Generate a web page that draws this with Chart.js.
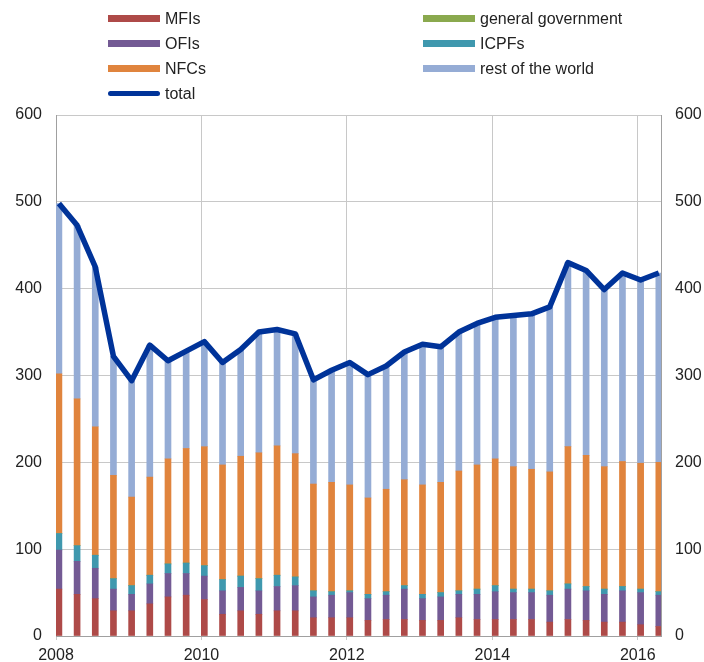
<!DOCTYPE html>
<html>
<head>
<meta charset="utf-8">
<script src="https://cdn.jsdelivr.net/npm/chart.js@4.4.1/dist/chart.umd.min.js"></script>
<style>
  body { margin: 0; background: #fff; }
  #wrap { position: relative; width: 704px; height: 662px; }
  #legend {
    position: absolute; left: 108px; top: 6px;
    display: grid; grid-template-columns: 315px 220px; grid-template-rows: repeat(4, 25px);
    grid-auto-flow: column;
    font: 16px "Liberation Sans", Arial, sans-serif; color: #222;
  }
  .item { display: flex; align-items: center; white-space: nowrap; }
  .swatch { width: 52px; height: 7px; margin-right: 5px; }
  .swatch.line { height: 5px; border-radius: 3px; }
</style>
</head>
<body>
<div id="wrap">
  <canvas id="chart" width="704" height="662"></canvas>
  <div id="legend"></div>
</div>
<script>
const quarters = [
  '2008Q1', '2008Q2', '2008Q3', '2008Q4', '2009Q1', '2009Q2', '2009Q3', '2009Q4',
  '2010Q1', '2010Q2', '2010Q3', '2010Q4', '2011Q1', '2011Q2', '2011Q3', '2011Q4',
  '2012Q1', '2012Q2', '2012Q3', '2012Q4', '2013Q1', '2013Q2', '2013Q3', '2013Q4',
  '2014Q1', '2014Q2', '2014Q3', '2014Q4', '2015Q1', '2015Q2', '2015Q3', '2015Q4',
  '2016Q1', '2016Q2'
];
const yearTicks = [2008, 2010, 2012, 2014, 2016];

const mfis  = [54, 48, 43, 29, 29, 37, 45, 47, 42, 25, 29, 25, 29, 29, 21, 21, 21, 18, 19, 19, 18, 18, 21, 19, 19, 19, 19, 16, 19, 18, 16, 16, 13, 11];
const ofis  = [45, 38, 35, 25, 19, 23, 27, 25, 27, 27, 27, 27, 28, 29, 24, 26, 29, 25, 28, 35, 25, 27, 27, 29, 32, 31, 31, 31, 35, 34, 32, 36, 37, 36];
const icpfs = [19, 18, 15, 12, 10, 10, 11, 12, 12, 13, 13, 14, 13, 10, 7, 4, 2, 5, 4, 4, 5, 5, 4, 6, 7, 4, 4, 5, 6, 5, 6, 5, 4, 4];
const govt  = [0, 0, 0, 0, 0, 0, 0, 0, 0, 0, 0, 0, 0, 0, 0, 0, 0, 0, 0, 0, 0, 0, 0, 0, 0, 0, 0, 0, 0, 0, 0, 0, 0, 0];
const nfcs  = [184, 169, 148, 119, 102, 113, 121, 132, 137, 132, 138, 145, 149, 142, 123, 126, 122, 111, 118, 122, 126, 127, 138, 143, 146, 141, 138, 137, 158, 151, 141, 144, 145, 149];
const row   = [196, 200, 184, 137, 134, 152, 113, 112, 121, 118, 123, 139, 134, 138, 120, 129, 141, 142, 142, 147, 162, 156, 160, 163, 163, 174, 179, 190, 212, 213, 204, 217, 211, 218];
const total = [498, 473, 425, 322, 294, 335, 317, 328, 339, 315, 330, 350, 353, 348, 295, 306, 315, 301, 311, 327, 336, 333, 350, 360, 367, 369, 371, 379, 430, 421, 399, 418, 410, 418];

// bars sit just right of the quarter start
const BAR_SHIFT = 0.04;
const FONT = { family: '"Liberation Sans", Arial, sans-serif', size: 16 };
const GRID = '#c8c8c8';

function xOf(q) {
  return Number(q.slice(0, 4)) + (Number(q[5]) - 1) / 4 + BAR_SHIFT;
}

function points(values) {
  return values.map((v, i) => ({ x: xOf(quarters[i]), y: v }));
}

function bar(label, values, color) {
  return { type: 'bar', label, data: points(values), backgroundColor: color, yAxisID: 'y', order: 1, barThickness: 6 };
}

const datasets = [
  bar('MFIs', mfis, '#ae4a48'),
  bar('OFIs', ofis, '#735a94'),
  bar('ICPFs', icpfs, '#3f98ae'),
  bar('general government', govt, '#8aa94e'),
  bar('NFCs', nfcs, '#e0843d'),
  bar('rest of the world', row, '#95acd5'),
  {
    type: 'line', label: 'total', data: points(total), yAxisID: 'y2', order: 0,
    borderColor: '#003399', borderWidth: 5.5, pointRadius: 0, tension: 0, borderJoinStyle: 'round'
  }
];

new Chart(document.getElementById('chart'), {
  data: { datasets },
  options: {
    responsive: false,
    animation: false,
    layout: { padding: { top: 115, left: 0, right: 0, bottom: 0 } },
    plugins: { legend: { display: false }, tooltip: { enabled: false } },
    scales: {
      x: {
        type: 'linear', min: 2008, max: 2016.32, stacked: true, offset: false,
        afterBuildTicks: s => { s.ticks = yearTicks.map(v => ({ value: v })); },
        afterFit: s => { s.height = 26; },
        ticks: { color: '#222', font: FONT, padding: 6, maxRotation: 0, callback: v => String(v) },
        grid: { color: GRID, tickLength: 4, offset: false },
        border: { color: '#a0a0a0' }
      },
      y: {
        position: 'left', stacked: true, min: 0, max: 600,
        afterFit: s => { s.width = 56; },
        ticks: { stepSize: 100, color: '#222', font: FONT, padding: 14 },
        grid: { color: GRID, drawTicks: false },
        border: { color: '#a0a0a0' }
      },
      y2: {
        position: 'right', min: 0, max: 600,
        afterFit: s => { s.width = 43; },
        ticks: { stepSize: 100, color: '#222', font: FONT, padding: 14 },
        grid: { display: false, drawTicks: false },
        border: { color: '#a0a0a0' }
      }
    }
  }
});

// two-column legend, filled column by column
const legendOrder = ['MFIs', 'OFIs', 'NFCs', 'total', 'general government', 'ICPFs', 'rest of the world'];
const legend = document.getElementById('legend');
legendOrder.forEach(name => {
  const ds = datasets.find(d => d.label === name);
  const isLine = ds.type === 'line';
  const item = document.createElement('div');
  item.className = 'item';
  item.innerHTML = `<span class="swatch${isLine ? ' line' : ''}" style="background:${isLine ? ds.borderColor : ds.backgroundColor}"></span>${name}`;
  legend.appendChild(item);
});
</script>
</body>
</html>
